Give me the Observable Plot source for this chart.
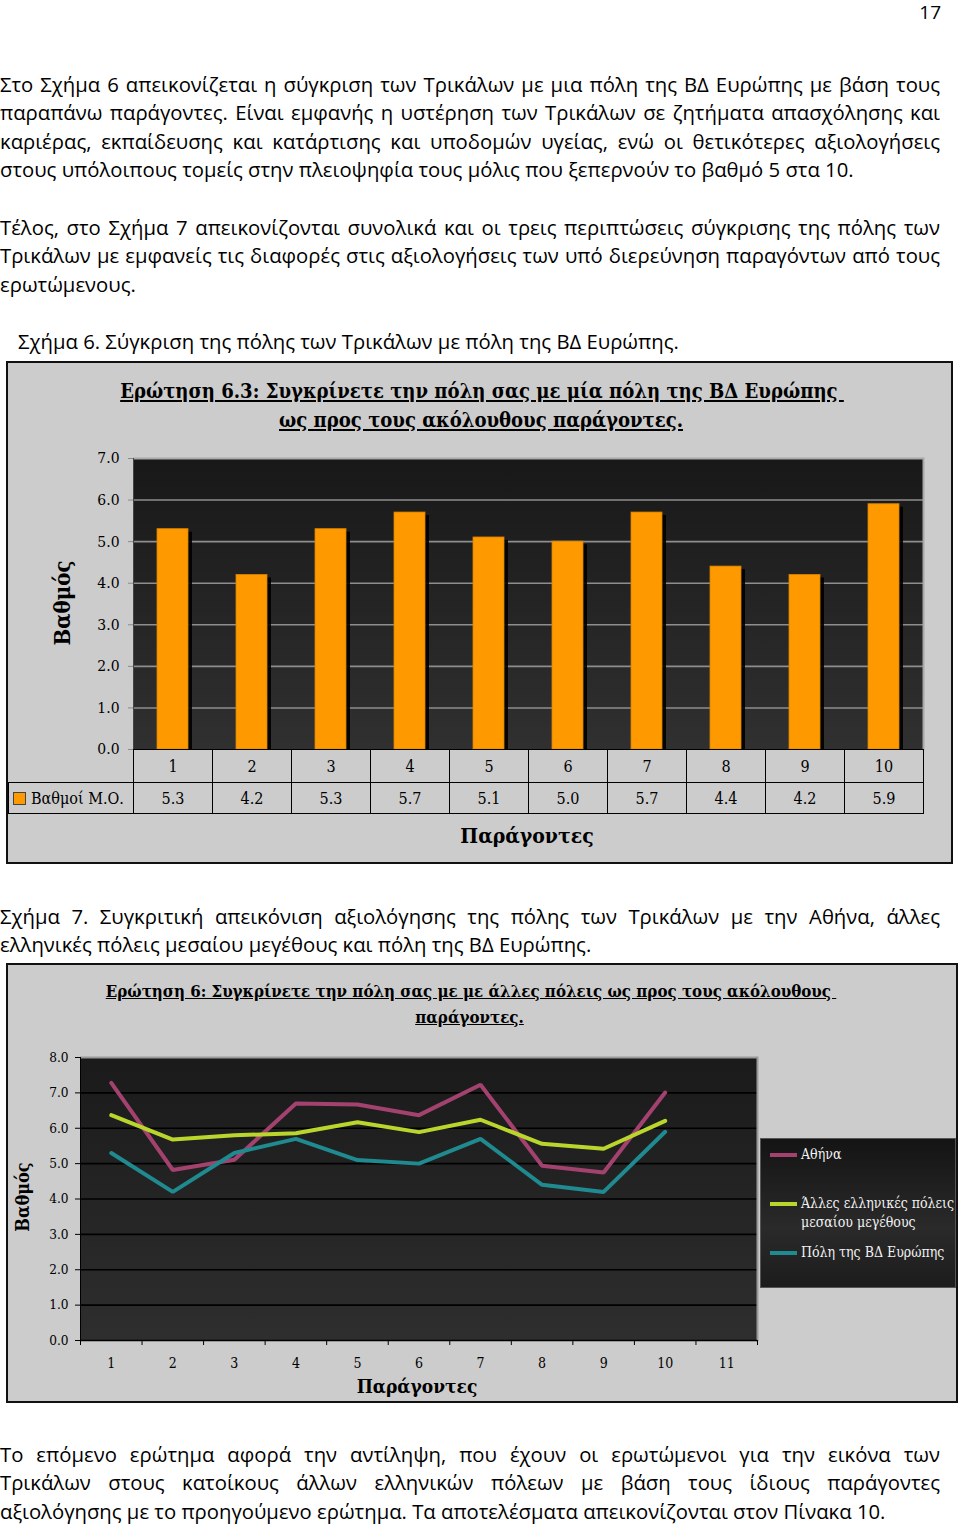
<!DOCTYPE html>
<html lang="el"><head><meta charset="utf-8">
<script src="https://cdn.jsdelivr.net/npm/d3@7"></script>
<script src="https://cdn.jsdelivr.net/npm/@observablehq/plot@0.6"></script>
<style>
html,body{margin:0;padding:0;background:#fff;}
#page{position:relative;width:960px;height:1524px;overflow:hidden;font-family:"Open Sans",Roboto,sans-serif;color:#000;}
.ln{position:absolute;left:0;width:940px;font-size:20.3px;line-height:28px;white-space:normal;}
.j{text-align:justify;text-align-last:justify;}
.pg{position:absolute;left:900px;top:1px;width:41px;font-size:19px;line-height:22px;text-align:right;}
.frame{position:absolute;background:#cccccc;border:2px solid #111;box-sizing:border-box;}
.ttl{position:absolute;text-align:center;font-family:"DejaVu Serif Condensed","DejaVu Serif",serif;font-stretch:condensed;font-weight:bold;text-decoration:underline;white-space:pre;}
.plotwrap{position:absolute;left:0;}
.vlabel{position:absolute;font-family:"DejaVu Serif Condensed","DejaVu Serif",serif;font-stretch:condensed;font-weight:bold;white-space:nowrap;transform:translate(-50%,-50%) rotate(-90deg);}
.clabel{position:absolute;font-family:"DejaVu Serif Condensed","DejaVu Serif",serif;font-stretch:condensed;font-weight:bold;white-space:nowrap;transform:translate(-50%,-50%);}
table.dt{position:absolute;border-collapse:collapse;table-layout:fixed;font-family:"DejaVu Serif Condensed","DejaVu Serif",serif;font-stretch:condensed;font-size:16px;}
table.dt td{border:1.5px solid #000;text-align:center;padding:0;}
.legend2{position:absolute;left:760px;top:1138px;width:196px;height:150px;box-sizing:border-box;border:1px solid #555;background:linear-gradient(#141414,#2a2a2a 60%,#1c1c1c);font-family:"DejaVu Serif Condensed","DejaVu Serif",serif;font-stretch:condensed;font-size:14px;color:#f2f2f2;}
.legend2 .item{position:absolute;left:40px;line-height:19px;white-space:nowrap;}
.legend2 .sw{position:absolute;left:-31px;top:8px;width:27px;height:4px;}
</style></head>
<body>
<svg width="0" height="0" style="position:absolute">
  <defs>
    <linearGradient id="bg1" x1="0" y1="0" x2="0" y2="1">
      <stop offset="0" stop-color="#181818"/>
      <stop offset="1" stop-color="#303030"/>
    </linearGradient>
    <linearGradient id="bg2" x1="0" y1="0" x2="0" y2="1">
      <stop offset="0" stop-color="#1a1a1a"/>
      <stop offset="1" stop-color="#2e2e2e"/>
    </linearGradient>
  </defs>
</svg>
<div id="page">
<div class="pg">17</div>

<div class="ln j" style="top:70px;">Στο Σχήμα 6 απεικονίζεται η σύγκριση των Τρικάλων με μια πόλη της ΒΔ Ευρώπης με βάση τους</div>
<div class="ln j" style="top:98px;">παραπάνω παράγοντες. Είναι εμφανής η υστέρηση των Τρικάλων σε ζητήματα απασχόλησης και</div>
<div class="ln j" style="top:127px;">καριέρας, εκπαίδευσης και κατάρτισης και υποδομών υγείας, ενώ οι θετικότερες αξιολογήσεις</div>
<div class="ln" style="top:155px;">στους υπόλοιπους τομείς στην πλειοψηφία τους μόλις που ξεπερνούν το βαθμό 5 στα 10.</div>

<div class="ln j" style="top:213px;">Τέλος, στο Σχήμα 7 απεικονίζονται συνολικά και οι τρεις περιπτώσεις σύγκρισης της πόλης των</div>
<div class="ln j" style="top:241px;">Τρικάλων με εμφανείς τις διαφορές στις αξιολογήσεις των υπό διερεύνηση παραγόντων από τους</div>
<div class="ln" style="top:270px;">ερωτώμενους.</div>

<div class="ln" style="left:18px;top:327px;">Σχήμα 6. Σύγκριση της πόλης των Τρικάλων με πόλη της ΒΔ Ευρώπης.</div>

<!-- Chart 1 -->
<div class="frame" style="left:6px;top:361px;width:947px;height:503px;"></div>
<div class="ttl" style="left:0;width:964px;top:377px;font-size:20.1px;line-height:29px;">Ερώτηση 6.3: Συγκρίνετε την πόλη σας με μία πόλη της ΒΔ Ευρώπης </div>
<div class="ttl" style="left:0;width:962px;top:406px;font-size:20.1px;line-height:29px;">ως προς τους ακόλουθους παράγοντες.</div>
<div class="vlabel" style="left:62px;top:603px;font-size:22px;">Βαθμός</div>
<div id="chart1" class="plotwrap" style="top:430px;"></div>
<table class="dt" id="table1" style="left:8px;top:749px;"></table>
<div class="clabel" style="left:527px;top:835px;font-size:21px;">Παράγοντες</div>

<div class="ln j" style="top:902px;">Σχήμα 7. Συγκριτική απεικόνιση αξιολόγησης της πόλης των Τρικάλων με την Αθήνα, άλλες</div>
<div class="ln" style="top:930px;">ελληνικές πόλεις μεσαίου μεγέθους και πόλη της ΒΔ Ευρώπης.</div>

<!-- Chart 2 -->
<div class="frame" style="left:6px;top:963px;width:952px;height:440px;"></div>
<div class="ttl" style="left:0;width:942px;top:978px;font-size:16.8px;line-height:26px;">Ερώτηση 6: Συγκρίνετε την πόλη σας με με άλλες πόλεις ως προς τους ακόλουθους </div>
<div class="ttl" style="left:0;width:939px;top:1004px;font-size:16.8px;line-height:26px;">παράγοντες.</div>
<div class="vlabel" style="left:22px;top:1197px;font-size:18px;">Βαθμός</div>
<div id="chart2" class="plotwrap" style="top:1040px;"></div>
<div class="legend2" id="legend2"></div>
<div class="clabel" style="left:417px;top:1386px;font-size:19px;">Παράγοντες</div>

<div class="ln j" style="top:1440px;">Το επόμενο ερώτημα αφορά την αντίληψη, που έχουν οι ερωτώμενοι για την εικόνα των</div>
<div class="ln j" style="top:1468px;">Τρικάλων στους κατοίκους άλλων ελληνικών πόλεων με βάση τους ίδιους παράγοντες</div>
<div class="ln" style="top:1497px;">αξιολόγησης με το προηγούμενο ερώτημα. Τα αποτελέσματα απεικονίζονται στον Πίνακα 10.</div>
</div>

<script>
// ---------- Data ----------
const factors = ["1","2","3","4","5","6","7","8","9","10"];
const meanScores = [5.3, 4.2, 5.3, 5.7, 5.1, 5.0, 5.7, 4.4, 4.2, 5.9];
const yTicks1 = [0, 1, 2, 3, 4, 5, 6, 7];
const grid1 = [1, 2, 3, 4, 5, 6];
const tableRowLabel = "Βαθμοί Μ.Ο.";

const factorNums = [1, 2, 3, 4, 5, 6, 7, 8, 9, 10];
const athens = [7.28, 4.82, 5.11, 6.70, 6.67, 6.37, 7.23, 4.94, 4.75, 7.01];
const greekMid = [6.37, 5.68, 5.80, 5.86, 6.17, 5.89, 6.24, 5.56, 5.42, 6.21];
const nwEurope = [5.3, 4.2, 5.3, 5.7, 5.1, 5.0, 5.7, 4.4, 4.2, 5.9];
const seriesNames = ["Αθήνα", "Άλλες ελληνικές πόλεις μεσαίου μεγέθους", "Πόλη της ΒΔ Ευρώπης"];
const seriesColors = ["#a3426f", "#bad52c", "#1f8a8f"];
const yTicks2 = [0, 1, 2, 3, 4, 5, 6, 7, 8];
const grid2 = [1, 2, 3, 4, 5, 6, 7];
const xTickLabels2 = [1, 2, 3, 4, 5, 6, 7, 8, 9, 10, 11];
const xTickEdges2 = [0.5, 1.5, 2.5, 3.5, 4.5, 5.5, 6.5, 7.5, 8.5, 9.5, 10.5, 11.5];

const serif = '"DejaVu Serif Condensed","DejaVu Serif",serif';

// ---------- Chart 1 ----------
const data1 = factors.map((f, i) => ({factor: f, value: meanScores[i]}));
const chart1 = Plot.plot({
  width: 960, height: 340,
  marginLeft: 133, marginRight: 37, marginTop: 28, marginBottom: 21,
  style: {background: "transparent", fontFamily: serif, fontSize: "15.5px", color: "#000", overflow: "visible", fontStretch: "condensed"},
  x: {type: "band", domain: factors, paddingInner: 0.61, paddingOuter: 0.305, axis: null},
  y: {domain: [0, 7], axis: null},
  marks: [
    Plot.frame({fill: "url(#bg1)", stroke: null}),
    Plot.ruleY(grid1, {stroke: "#8e8e8e", strokeWidth: 1.6}),
    Plot.ruleY([7], {stroke: "#a8a8a8", strokeWidth: 2}),
    Plot.barY(data1, {x: "factor", y: "value", fill: "#000", fillOpacity: 0.9, dx: 4, dy: 3, clip: "frame"}),
    Plot.barY(data1, {x: "factor", y: "value", fill: "#ff9900", stroke: "#d88300", strokeWidth: 0.8}),
    Plot.frame({anchor: "right", stroke: "#a8a8a8", strokeWidth: 2}),
    Plot.frame({anchor: "left", stroke: "#444", strokeWidth: 1}),
    Plot.axisY({ticks: yTicks1, tickFormat: d3.format(".1f"), tickSize: 5, tickPadding: 9, stroke: "#8a8a8a", label: null, fill: "#000"})
  ]
});
document.getElementById("chart1").appendChild(chart1);

// data table under chart 1
const table1 = document.getElementById("table1");
const colgroup = document.createElement("colgroup");
[125, ...factors.map(() => 79)].forEach(w => { const c = document.createElement("col"); c.style.width = w + "px"; colgroup.appendChild(c); });
table1.appendChild(colgroup);
table1.style.width = (125 + 79 * factors.length) + "px";
const tr1 = document.createElement("tr"); tr1.style.height = "33px";
const blank = document.createElement("td"); blank.style.border = "none"; tr1.appendChild(blank);
factors.forEach(f => { const td = document.createElement("td"); td.textContent = f; tr1.appendChild(td); });
const tr2 = document.createElement("tr"); tr2.style.height = "31px";
const lab = document.createElement("td");
lab.style.textAlign = "left"; lab.style.paddingLeft = "4px"; lab.style.whiteSpace = "nowrap";
lab.innerHTML = '<span style="display:inline-block;width:11px;height:11px;background:#ff9900;border:1px solid #444;margin-right:5px;vertical-align:-1px"></span>' + tableRowLabel;
tr2.appendChild(lab);
meanScores.forEach(v => { const td = document.createElement("td"); td.textContent = v.toFixed(1); tr2.appendChild(td); });
table1.appendChild(tr1); table1.appendChild(tr2);

// ---------- Chart 2 ----------
const series2 = [athens, greekMid, nwEurope];
const data2 = series2.flatMap((vals, s) => vals.map((v, i) => ({factor: factorNums[i], value: v, series: seriesNames[s]})));
const chart2 = Plot.plot({
  width: 960, height: 350,
  marginLeft: 80, marginRight: 203, marginTop: 17, marginBottom: 50,
  style: {background: "transparent", fontFamily: serif, fontSize: "13.5px", color: "#000", overflow: "visible", fontStretch: "condensed"},
  x: {domain: [0.5, 11.5], axis: null},
  y: {domain: [0, 8], axis: null},
  color: {domain: seriesNames, range: seriesColors},
  marks: [
    Plot.frame({fill: "url(#bg2)", stroke: null}),
    Plot.ruleY(grid2, {stroke: "#000", strokeWidth: 1.6}),
    Plot.ruleY([8], {stroke: "#9a9a9a", strokeWidth: 2}),
    Plot.frame({anchor: "right", stroke: "#9a9a9a", strokeWidth: 2}),
    Plot.line(data2, {x: "factor", y: "value", stroke: "series", z: "series", strokeWidth: 4, strokeLinejoin: "miter"}),
    Plot.ruleY([0], {stroke: "#000", strokeWidth: 1.5}),
    Plot.frame({anchor: "left", stroke: "#000", strokeWidth: 1}),
    Plot.axisY({ticks: yTicks2, tickFormat: d3.format(".1f"), tickSize: 5, tickPadding: 7, stroke: "#000", label: null}),
    Plot.axisX({ticks: xTickLabels2, tickSize: 0, tickPadding: 18, tickFormat: d => String(d), label: null, fontSize: "14px"}),
    Plot.axisX({ticks: xTickEdges2, tickSize: 5, tickFormat: () => "", label: null, stroke: "#000"})
  ]
});
document.getElementById("chart2").appendChild(chart2);

// legend chart 2
const legend2 = document.getElementById("legend2");
const legendTops = [6, 55, 104];
const legendLabels = ["Αθήνα", "Άλλες ελληνικές πόλεις<br>μεσαίου μεγέθους", "Πόλη της ΒΔ Ευρώπης"];
seriesNames.forEach((name, i) => {
  const it = document.createElement("div");
  it.className = "item";
  it.style.top = legendTops[i] + "px";
  it.innerHTML = '<span class="sw" style="background:' + seriesColors[i] + '"></span>' + legendLabels[i];
  legend2.appendChild(it);
});
</script>
</body></html>
